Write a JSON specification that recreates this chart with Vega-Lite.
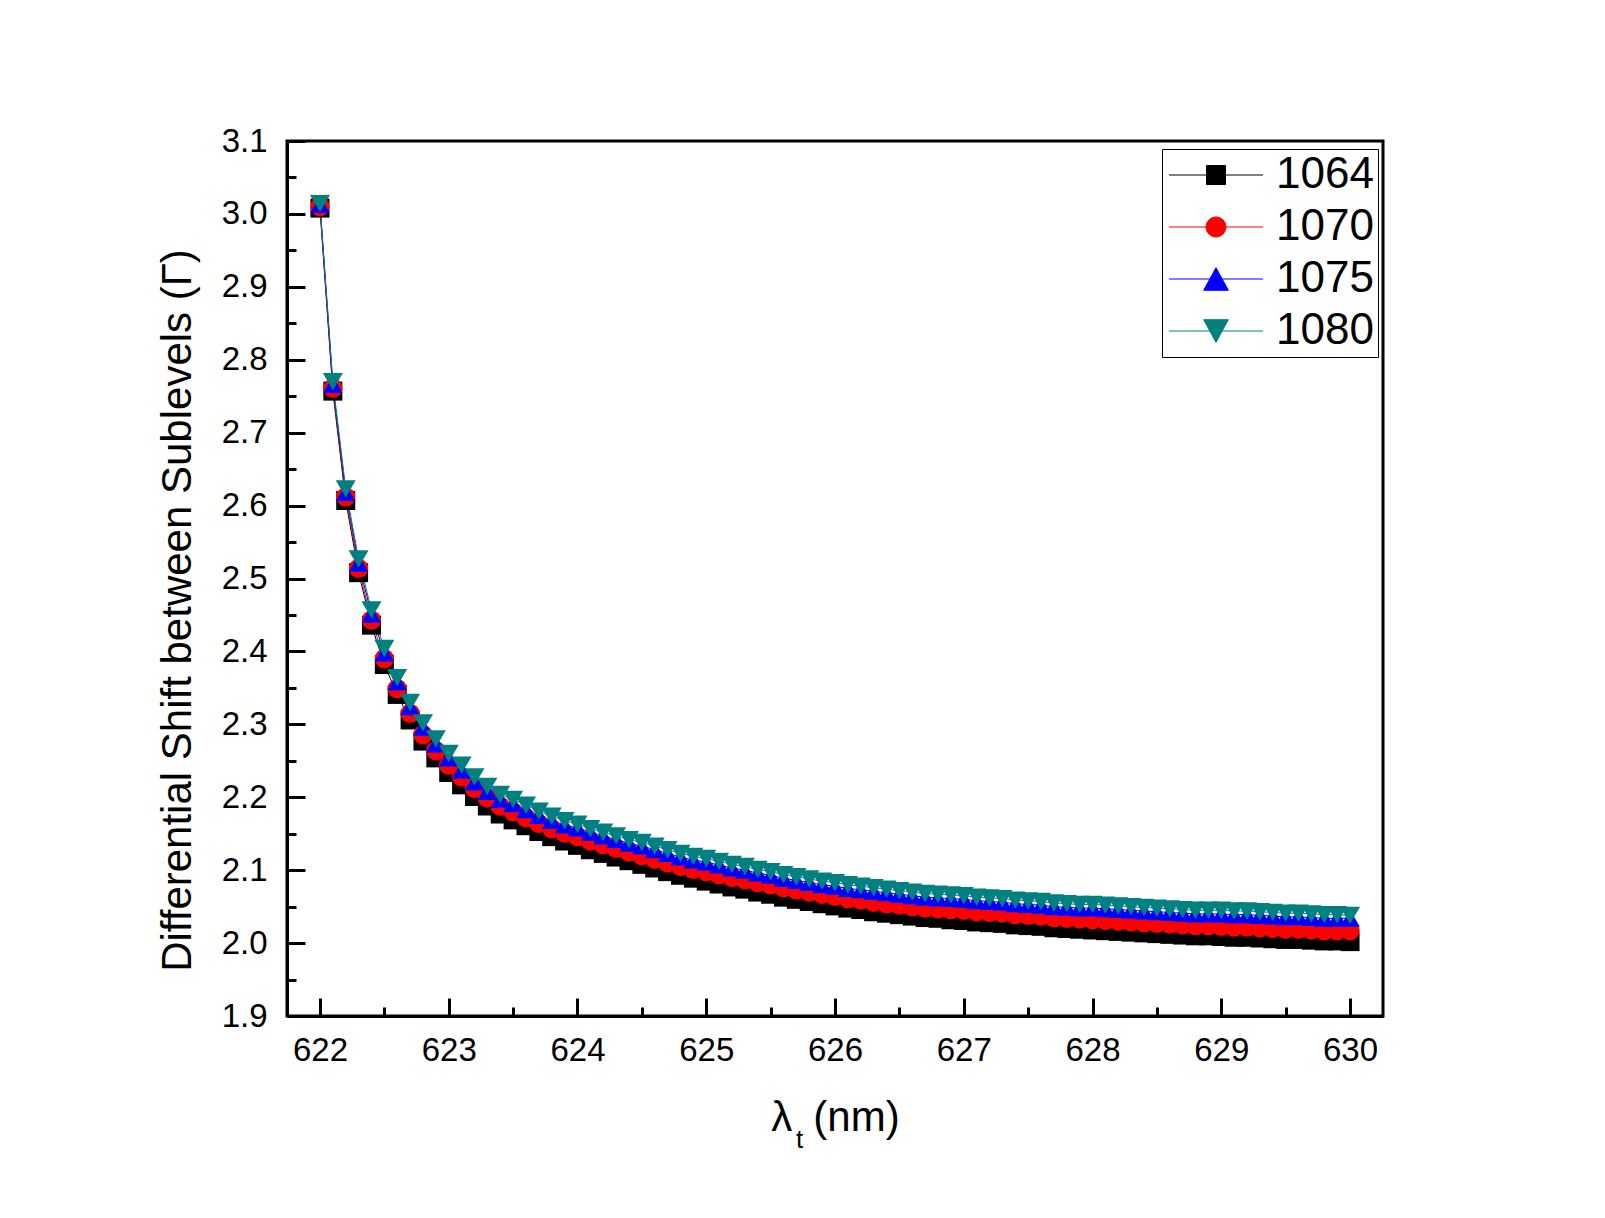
{
  "$schema": "https://vega.github.io/schema/vega-lite/v6.json",
  "width": 1096,
  "height": 875,
  "autosize": {"type": "none"},
  "padding": {"left": 287, "top": 141, "right": 222, "bottom": 202},
  "background": "white",
  "config": {
    "font": "Liberation Sans",
    "view": {"stroke": "black", "strokeWidth": 3},
    "axis": {
      "grid": false,
      "labelFont": "Liberation Sans",
      "titleFont": "Liberation Sans",
      "labelColor": "black",
      "titleColor": "black",
      "tickColor": "black",
      "domainColor": "black",
      "titleFontWeight": "normal",
      "labelFlush": false,
      "labelOverlap": false
    }
  },
  "data": {
    "values": [
      {"x": 622.0, "1064": 3.008, "1070": 3.010, "1075": 3.013, "1080": 3.014},
      {"x": 622.1, "1064": 2.757, "1070": 2.761, "1075": 2.766, "1080": 2.770},
      {"x": 622.2, "1064": 2.607, "1070": 2.612, "1075": 2.618, "1080": 2.623},
      {"x": 622.3, "1064": 2.508, "1070": 2.514, "1075": 2.521, "1080": 2.527},
      {"x": 622.4, "1064": 2.436, "1070": 2.443, "1075": 2.451, "1080": 2.457},
      {"x": 622.5, "1064": 2.382, "1070": 2.390, "1075": 2.398, "1080": 2.404},
      {"x": 622.6, "1064": 2.341, "1070": 2.349, "1075": 2.358, "1080": 2.364},
      {"x": 622.7, "1064": 2.306, "1070": 2.315, "1075": 2.324, "1080": 2.330},
      {"x": 622.8, "1064": 2.277, "1070": 2.286, "1075": 2.296, "1080": 2.302},
      {"x": 622.9, "1064": 2.254, "1070": 2.264, "1075": 2.273, "1080": 2.280},
      {"x": 623.0, "1064": 2.234, "1070": 2.244, "1075": 2.254, "1080": 2.260},
      {"x": 623.1, "1064": 2.217, "1070": 2.228, "1075": 2.237, "1080": 2.244},
      {"x": 623.2, "1064": 2.201, "1070": 2.212, "1075": 2.221, "1080": 2.228},
      {"x": 623.3, "1064": 2.188, "1070": 2.199, "1075": 2.208, "1080": 2.215},
      {"x": 623.4, "1064": 2.177, "1070": 2.188, "1075": 2.197, "1080": 2.204},
      {"x": 623.5, "1064": 2.169, "1070": 2.180, "1075": 2.191, "1080": 2.197},
      {"x": 623.6, "1064": 2.161, "1070": 2.172, "1075": 2.183, "1080": 2.189},
      {"x": 623.7, "1064": 2.153, "1070": 2.164, "1075": 2.175, "1080": 2.181},
      {"x": 623.8, "1064": 2.146, "1070": 2.157, "1075": 2.168, "1080": 2.174},
      {"x": 623.9, "1064": 2.140, "1070": 2.151, "1075": 2.162, "1080": 2.168},
      {"x": 624.0, "1064": 2.134, "1070": 2.146, "1075": 2.158, "1080": 2.163},
      {"x": 624.1, "1064": 2.128, "1070": 2.140, "1075": 2.152, "1080": 2.157},
      {"x": 624.2, "1064": 2.123, "1070": 2.135, "1075": 2.147, "1080": 2.152},
      {"x": 624.3, "1064": 2.118, "1070": 2.130, "1075": 2.142, "1080": 2.147},
      {"x": 624.4, "1064": 2.113, "1070": 2.125, "1075": 2.137, "1080": 2.142},
      {"x": 624.5, "1064": 2.108, "1070": 2.120, "1075": 2.133, "1080": 2.138},
      {"x": 624.6, "1064": 2.103, "1070": 2.115, "1075": 2.128, "1080": 2.133},
      {"x": 624.7, "1064": 2.098, "1070": 2.110, "1075": 2.123, "1080": 2.128},
      {"x": 624.8, "1064": 2.093, "1070": 2.105, "1075": 2.118, "1080": 2.123},
      {"x": 624.9, "1064": 2.089, "1070": 2.101, "1075": 2.114, "1080": 2.119},
      {"x": 625.0, "1064": 2.085, "1070": 2.098, "1075": 2.111, "1080": 2.116},
      {"x": 625.1, "1064": 2.081, "1070": 2.094, "1075": 2.107, "1080": 2.112},
      {"x": 625.2, "1064": 2.077, "1070": 2.090, "1075": 2.103, "1080": 2.108},
      {"x": 625.3, "1064": 2.074, "1070": 2.087, "1075": 2.100, "1080": 2.105},
      {"x": 625.4, "1064": 2.070, "1070": 2.083, "1075": 2.096, "1080": 2.101},
      {"x": 625.5, "1064": 2.067, "1070": 2.080, "1075": 2.093, "1080": 2.098},
      {"x": 625.6, "1064": 2.063, "1070": 2.076, "1075": 2.089, "1080": 2.094},
      {"x": 625.7, "1064": 2.060, "1070": 2.073, "1075": 2.086, "1080": 2.091},
      {"x": 625.8, "1064": 2.057, "1070": 2.070, "1075": 2.083, "1080": 2.088},
      {"x": 625.9, "1064": 2.054, "1070": 2.067, "1075": 2.080, "1080": 2.085},
      {"x": 626.0, "1064": 2.051, "1070": 2.064, "1075": 2.078, "1080": 2.083},
      {"x": 626.1, "1064": 2.048, "1070": 2.061, "1075": 2.075, "1080": 2.080},
      {"x": 626.2, "1064": 2.046, "1070": 2.059, "1075": 2.073, "1080": 2.078},
      {"x": 626.3, "1064": 2.043, "1070": 2.056, "1075": 2.071, "1080": 2.076},
      {"x": 626.4, "1064": 2.041, "1070": 2.054, "1075": 2.069, "1080": 2.074},
      {"x": 626.5, "1064": 2.039, "1070": 2.052, "1075": 2.067, "1080": 2.072},
      {"x": 626.6, "1064": 2.037, "1070": 2.050, "1075": 2.065, "1080": 2.070},
      {"x": 626.7, "1064": 2.035, "1070": 2.048, "1075": 2.063, "1080": 2.068},
      {"x": 626.8, "1064": 2.034, "1070": 2.047, "1075": 2.062, "1080": 2.067},
      {"x": 626.9, "1064": 2.032, "1070": 2.046, "1075": 2.061, "1080": 2.066},
      {"x": 627.0, "1064": 2.031, "1070": 2.045, "1075": 2.060, "1080": 2.065},
      {"x": 627.1, "1064": 2.029, "1070": 2.043, "1075": 2.058, "1080": 2.063},
      {"x": 627.2, "1064": 2.028, "1070": 2.042, "1075": 2.057, "1080": 2.062},
      {"x": 627.3, "1064": 2.027, "1070": 2.041, "1075": 2.056, "1080": 2.061},
      {"x": 627.4, "1064": 2.025, "1070": 2.039, "1075": 2.054, "1080": 2.059},
      {"x": 627.5, "1064": 2.024, "1070": 2.038, "1075": 2.053, "1080": 2.058},
      {"x": 627.6, "1064": 2.023, "1070": 2.037, "1075": 2.052, "1080": 2.057},
      {"x": 627.7, "1064": 2.021, "1070": 2.035, "1075": 2.050, "1080": 2.055},
      {"x": 627.8, "1064": 2.020, "1070": 2.034, "1075": 2.049, "1080": 2.054},
      {"x": 627.9, "1064": 2.019, "1070": 2.033, "1075": 2.048, "1080": 2.053},
      {"x": 628.0, "1064": 2.018, "1070": 2.032, "1075": 2.048, "1080": 2.053},
      {"x": 628.1, "1064": 2.017, "1070": 2.031, "1075": 2.047, "1080": 2.052},
      {"x": 628.2, "1064": 2.016, "1070": 2.030, "1075": 2.046, "1080": 2.051},
      {"x": 628.3, "1064": 2.015, "1070": 2.029, "1075": 2.045, "1080": 2.050},
      {"x": 628.4, "1064": 2.014, "1070": 2.028, "1075": 2.044, "1080": 2.049},
      {"x": 628.5, "1064": 2.013, "1070": 2.027, "1075": 2.043, "1080": 2.048},
      {"x": 628.6, "1064": 2.012, "1070": 2.026, "1075": 2.042, "1080": 2.047},
      {"x": 628.7, "1064": 2.011, "1070": 2.025, "1075": 2.041, "1080": 2.046},
      {"x": 628.8, "1064": 2.010, "1070": 2.024, "1075": 2.040, "1080": 2.045},
      {"x": 628.9, "1064": 2.010, "1070": 2.024, "1075": 2.040, "1080": 2.045},
      {"x": 629.0, "1064": 2.009, "1070": 2.023, "1075": 2.040, "1080": 2.045},
      {"x": 629.1, "1064": 2.008, "1070": 2.022, "1075": 2.039, "1080": 2.044},
      {"x": 629.2, "1064": 2.008, "1070": 2.022, "1075": 2.039, "1080": 2.044},
      {"x": 629.3, "1064": 2.007, "1070": 2.021, "1075": 2.038, "1080": 2.043},
      {"x": 629.4, "1064": 2.006, "1070": 2.020, "1075": 2.037, "1080": 2.042},
      {"x": 629.5, "1064": 2.005, "1070": 2.019, "1075": 2.036, "1080": 2.041},
      {"x": 629.6, "1064": 2.005, "1070": 2.019, "1075": 2.036, "1080": 2.041},
      {"x": 629.7, "1064": 2.004, "1070": 2.018, "1075": 2.035, "1080": 2.040},
      {"x": 629.8, "1064": 2.003, "1070": 2.017, "1075": 2.034, "1080": 2.039},
      {"x": 629.9, "1064": 2.003, "1070": 2.017, "1075": 2.034, "1080": 2.039},
      {"x": 630.0, "1064": 2.002, "1070": 2.017, "1075": 2.034, "1080": 2.038}
    ]
  },
  "transform": [
    {"fold": ["1064", "1070", "1075", "1080"], "as": ["series", "value"]}
  ],
  "layer": [
    {
      "mark": {"type": "line", "strokeWidth": 1},
      "encoding": {
        "x": {
          "field": "x",
          "type": "quantitative",
          "scale": {"domain": [621.744, 630.256], "nice": false, "zero": false},
          "axis": {
            "orient": "bottom",
            "values": [622.5, 623.5, 624.5, 625.5, 626.5, 627.5, 628.5, 629.5],
            "labels": false,
            "domain": false,
            "tickSize": -9,
            "tickWidth": 3,
            "title": "t",
            "titleFontSize": 26,
            "titleX": 512,
            "titleY": 131,
            "titleAlign": "center",
            "titleBaseline": "alphabetic"
          }
        },
        "y": {
          "field": "value",
          "type": "quantitative",
          "scale": {"domain": [1.9, 3.1], "nice": false, "zero": false},
          "axis": {
            "orient": "left",
            "values": [1.95, 2.05, 2.15, 2.25, 2.35, 2.45, 2.55, 2.65, 2.75, 2.85, 2.95, 3.05],
            "labels": false,
            "domain": false,
            "tickSize": -9,
            "tickWidth": 3,
            "title": null
          }
        },
        "detail": {"field": "series", "type": "nominal"},
        "stroke": {
          "field": "series",
          "type": "nominal",
          "scale": {"range": ["#000000", "#ff0000", "#0000ff", "#008080"]},
          "legend": null
        }
      }
    },
    {
      "mark": {"type": "point", "filled": true, "opacity": 1, "strokeWidth": 0},
      "encoding": {
        "x": {
          "field": "x",
          "type": "quantitative",
          "axis": {
            "orient": "bottom",
            "values": [622, 623, 624, 625, 626, 627, 628, 629, 630],
            "format": "d",
            "labelFontSize": 33,
            "labelPadding": 36,
            "tickSize": -18,
            "tickWidth": 3,
            "domainWidth": 3,
            "title": "λ\u2002(nm)",
            "titleFontSize": 42,
            "titleX": 548,
            "titleY": 114,
            "titleAlign": "center",
            "titleBaseline": "alphabetic"
          }
        },
        "y": {
          "field": "value",
          "type": "quantitative",
          "axis": {
            "orient": "left",
            "values": [1.9, 2.0, 2.1, 2.2, 2.3, 2.4, 2.5, 2.6, 2.7, 2.8, 2.9, 3.0, 3.1],
            "format": ".1f",
            "labelFontSize": 33,
            "labelPadding": 38,
            "labelBaseline": "middle",
            "tickSize": -18,
            "tickWidth": 3,
            "domainWidth": 3,
            "title": "Differential Shift between Sublevels (Γ)",
            "titleFontSize": 42,
            "titleAngle": -90,
            "titleX": -97,
            "titleY": 469,
            "titleAlign": "center",
            "titleBaseline": "alphabetic"
          }
        },
        "color": {
          "field": "series",
          "type": "nominal",
          "scale": {"domain": ["1064", "1070", "1075", "1080"], "range": ["#000000", "#ff0000", "#0000ff", "#008080"]},
          "legend": {
            "title": null,
            "orient": "none",
            "legendX": 875,
            "legendY": 8,
            "strokeColor": "black",
            "padding": 4,
            "labelFont": "Liberation Sans",
            "labelFontSize": 44,
            "labelColor": "black",
            "symbolSize": 361,
            "symbolOffset": 28,
            "labelOffset": 38,
            "rowPadding": 8,
            "symbolType": {"expr": "datum.value === '1064' ? 'M-4.95,0H4.95M-1,-1H1V1H-1Z' : datum.value === '1070' ? 'M-4.95,0H4.95M-1.05,0A1.05,1.05,0,1,1,1.05,0A1.05,1.05,0,1,1,-1.05,0Z' : datum.value === '1075' ? 'M-4.95,0H4.95M0,-1.19L1.3,1.19L-1.3,1.19Z' : 'M-4.95,0H4.95M-1.3,-1.19L1.3,-1.19L0,1.19Z'"},
            "symbolStrokeColor": {"expr": "scale('color', datum.value)"},
            "symbolStrokeWidth": 1
          }
        },
        "shape": {
          "field": "series",
          "type": "nominal",
          "scale": {"range": ["square", "circle", "triangle-up", "triangle-down"]},
          "legend": null
        },
        "size": {
          "field": "series",
          "type": "nominal",
          "scale": {"range": [361, 400, 620, 620]},
          "legend": null
        },
        "order": {"field": "series"}
      }
    }
  ],
  "resolve": {"axis": {"x": "independent", "y": "independent"}}
}
